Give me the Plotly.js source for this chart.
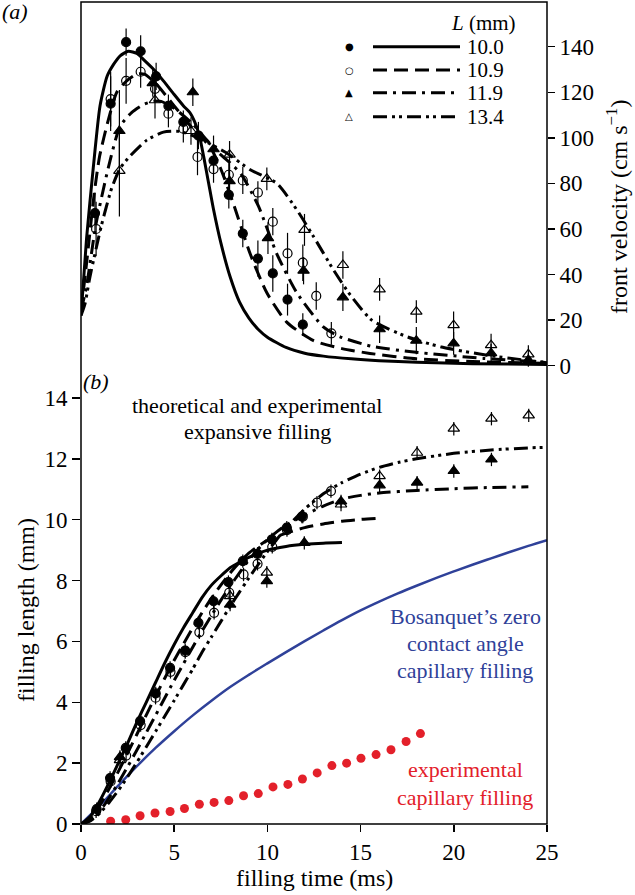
<!DOCTYPE html>
<html>
<head>
<meta charset="utf-8">
<script src="https://cdn.plot.ly/plotly-3.0.1.min.js"></script>
<style>html,body{margin:0;padding:0;background:#fff}#chart{width:635px;height:895px}</style>
</head>
<body>
<div id="chart"></div>
<script>
// ---------- (a) front velocity: theoretical curves ----------
var velT_100 = [0, 0.3, 0.66, 1.02, 1.4, 1.73, 2.1, 2.54, 3.0, 3.4, 3.9, 4.42, 5.0, 5.5, 5.85, 6.1, 6.35, 6.6, 6.85, 7.1, 7.5, 8.0, 8.5, 9.0, 9.5, 10, 11, 12, 13, 14.5, 16, 18, 21, 25];
var velV_100 = [22, 56, 87, 114, 127, 132, 136, 138, 137, 134, 130, 125, 119, 114, 111, 107, 101, 91, 80, 69, 54, 39, 28, 21, 16, 12.5, 8, 5.5, 4.2, 3, 2.2, 1.5, 0.9, 0.5];
var velT_109 = [0, 0.3, 0.7, 1.0, 1.47, 1.92, 2.45, 3.0, 3.4, 4.0, 5.0, 5.5, 6.0, 6.5, 7.0, 7.47, 8.18, 9.08, 9.97, 11.05, 12.48, 14, 15.5, 18, 21, 25];
var velV_109 = [24, 45, 75, 92, 108, 120, 125, 128, 128, 124, 114, 109, 104, 100, 95, 87, 71, 49, 32, 19, 11, 7.5, 5.4, 3, 1.8, 1];
var velT_119 = [0, 0.3, 0.8, 1.47, 2.09, 2.7, 3.35, 3.88, 4.3, 5.0, 6.0, 6.75, 7.3, 8.0, 8.6, 9.52, 10.51, 11.58, 13.0, 13.9, 15.6, 17.85, 21.6, 25];
var velV_119 = [24, 35, 62, 87, 105, 111, 114.6, 116, 116, 113, 106, 99, 94, 89, 84, 70, 49, 32, 17, 12.7, 8.5, 6, 3.2, 1.5];
var velT_134 = [0, 0.21, 0.48, 1.11, 1.65, 2.09, 2.63, 3.53, 4.42, 5.32, 6.3, 7.0, 7.82, 9.08, 10.51, 11.58, 12.48, 13.55, 14.45, 15.6, 17.49, 19.28, 21.79, 25];
var velV_134 = [22, 27, 39, 62, 78, 86.5, 92, 99, 102.5, 102.8, 100, 97, 93.3, 86, 80, 68.4, 56.6, 42, 31, 20, 12.7, 8.3, 4.6, 1.3];

// ---------- (a) front velocity: experiments ----------
var expT_100 = [0.75, 1.59, 2.42, 3.2, 4.03, 4.69, 5.49, 6.3, 7.11, 7.93, 8.68, 9.49, 10.29, 11.08, 11.9];
var expV_100 = [67, 115, 142, 138, 127, 114, 107, 101, 90, 75, 58, 47, 40.5, 29, 18];
var expE_100 = [9, 12, 6, 7, 6, 5, 5, 6, 5, 6, 6, 8, 8, 7, 5];
var expT_109 = [0.81, 1.59, 2.42, 3.2, 3.97, 4.69, 5.49, 6.25, 7.11, 7.93, 8.68, 9.49, 10.29, 11.08, 11.9, 12.62, 13.43];
var expV_109 = [60, 117, 125, 129, 121.5, 110.6, 104, 91.6, 86.3, 83.8, 81.3, 76, 63.2, 49.3, 45.2, 30.6, 14.2];
var expE_109 = [12, 12, 10, 7, 6, 6, 6, 8, 6, 5, 6, 5, 6, 9, 8, 6, 5];
var expT_119 = [2.06, 3.85, 6.0, 7.11, 7.97, 10.03, 11.94, 14.05, 16.02, 17.99, 19.99, 22.0, 24.0];
var expV_119 = [103, 124, 120, 95, 81, 56, 41.7, 30, 16, 11, 9.8, 5.5, 2.5];
var expE_119 = [18, 6, 6, 6, 6, 7, 6, 6, 6, 6, 5, 4, 3];
var expT_134 = [2.06, 3.97, 5.9, 7.97, 9.97, 11.99, 14.05, 16.02, 17.99, 19.99, 22.0, 24.0];
var expV_134 = [85.5, 116.5, 103, 92.6, 82, 59.6, 44.2, 33.5, 23.7, 17.8, 9, 5];
var expE_134 = [20, 8, 6, 6, 5, 7, 6, 5, 5, 6, 5, 4];

// ---------- (b) filling length: theoretical curves ----------
var lenT_100 = [0, 0.5, 1, 1.5, 2, 2.5, 3, 3.5, 4, 4.5, 5, 5.5, 6, 6.5, 7, 7.5, 8, 8.5, 9, 10, 11, 12, 13, 14];
var lenL_100 = [0, 0.25, 0.75, 1.35, 2.0, 2.65, 3.35, 4.0, 4.65, 5.3, 5.9, 6.45, 6.95, 7.45, 7.85, 8.15, 8.42, 8.6, 8.76, 9.0, 9.12, 9.19, 9.23, 9.25];
var lenT_109 = [0, 0.5, 1, 1.5, 2, 2.5, 3, 3.5, 4, 4.5, 5, 5.5, 6, 6.5, 7, 7.5, 8, 8.5, 9, 9.5, 10, 11, 12, 13, 14, 15, 16];
var lenL_109 = [0, 0.18, 0.6, 1.15, 1.72, 2.33, 2.95, 3.58, 4.2, 4.8, 5.38, 5.92, 6.45, 6.95, 7.42, 7.85, 8.25, 8.6, 8.9, 9.13, 9.32, 9.56, 9.74, 9.86, 9.95, 10.01, 10.05];
var lenT_119 = [0, 0.5, 1, 1.5, 2, 2.5, 3, 3.5, 4, 4.5, 5, 5.5, 6, 6.5, 7, 7.5, 8, 8.5, 9, 9.5, 10, 10.5, 11, 12, 13, 14, 15, 16, 18, 20, 22, 24];
var lenL_119 = [0, 0.12, 0.42, 0.85, 1.35, 1.88, 2.43, 3.0, 3.57, 4.15, 4.72, 5.27, 5.82, 6.35, 6.85, 7.35, 7.82, 8.25, 8.67, 9.03, 9.35, 9.6, 9.82, 10.15, 10.45, 10.68, 10.8, 10.88, 10.96, 11.02, 11.06, 11.08];
var lenT_134 = [0, 0.5, 1, 1.5, 2, 2.5, 3, 3.5, 4, 4.5, 5, 5.5, 6, 6.5, 7, 7.5, 8, 8.5, 9, 9.5, 10, 10.5, 11, 12, 13, 14, 15, 16, 17, 18, 20, 22, 24, 25];
var lenL_134 = [0, 0.1, 0.35, 0.7, 1.1, 1.55, 2.03, 2.53, 3.04, 3.55, 4.06, 4.58, 5.1, 5.65, 6.15, 6.65, 7.15, 7.62, 8.08, 8.52, 8.95, 9.35, 9.72, 10.35, 10.85, 11.22, 11.5, 11.72, 11.88, 12.0, 12.18, 12.29, 12.36, 12.38];

// Bosanquet zero contact angle capillary filling
var bosT = [0, 1, 2, 3, 4, 5, 6, 7, 8, 9, 10, 11, 12, 13, 14, 15, 16, 17, 18, 19, 20, 21, 22, 23, 24, 25];
var bosL = [0, 0.6, 1.26, 1.9, 2.5, 3.05, 3.57, 4.05, 4.5, 4.9, 5.28, 5.65, 6.01, 6.36, 6.7, 7.02, 7.31, 7.58, 7.83, 8.07, 8.3, 8.52, 8.73, 8.94, 9.14, 9.33];

// experimental capillary filling
var capT = [1.59, 2.4, 3.17, 3.97, 4.78, 5.55, 6.35, 7.14, 7.93, 8.72, 9.51, 10.3, 11.1, 11.88, 12.67, 13.46, 14.25, 15.02, 15.83, 16.63, 17.44, 18.21];
var capL = [0.09, 0.14, 0.27, 0.36, 0.41, 0.51, 0.65, 0.71, 0.77, 0.93, 1.0, 1.22, 1.3, 1.48, 1.68, 1.92, 2.0, 2.16, 2.28, 2.44, 2.71, 2.97];

// ---------- (b) filling length: experiments ----------
var lexT_100 = [0.84, 1.56, 2.4, 3.17, 4.01, 4.78, 5.59, 6.3, 7.11, 7.91, 8.68, 9.47, 10.24, 11.04, 11.85];
var lexL_100 = [0.49, 1.51, 2.5, 3.38, 4.29, 5.13, 5.7, 6.61, 7.32, 7.95, 8.64, 8.88, 9.35, 9.74, 10.1];
var lexT_109 = [0.81, 1.59, 2.42, 3.2, 4.0, 4.8, 5.59, 6.35, 7.14, 7.95, 8.72, 9.47, 10.26, 11.05, 11.9, 12.66, 13.41];
var lexL_109 = [0.42, 1.4, 2.25, 3.25, 4.15, 5.0, 5.65, 6.3, 6.94, 7.6, 8.2, 8.55, 9.11, 9.66, 10.1, 10.56, 10.94];
var lexT_119 = [2.09, 8.0, 9.97, 11.98, 13.95, 16.02, 18.03, 20.0, 22.02];
var lexL_119 = [2.2, 7.21, 7.98, 9.24, 10.6, 11.13, 11.22, 11.6, 11.98];
var lexT_134 = [2.09, 8.0, 9.97, 13.95, 16.02, 18.03, 20.0, 22.02, 24.02];
var lexL_134 = [2.1, 7.49, 8.26, 10.5, 11.43, 12.2, 12.99, 13.32, 13.43];

var legendLabels = ['10.0', '10.9', '11.9', '13.4'];
var legendGlyphs = ['\u25CF', '\u25CB', '\u25B2', '\u25B3'];

var xTicks = [0, 5, 10, 15, 20, 25];
var vTicks = [0, 20, 40, 60, 80, 100, 120, 140];
var lTicks = [0, 2, 4, 6, 8, 10, 12, 14];

// ---------- styles ----------
var BLK = '#000000';
var BLUE = '#2f4199';
var RED = '#e3202a';
var dashes = ['solid', '14px,7px', '14px,6px,3px,6px', '14px,5px,3px,4px,3px,5px'];
var syms = ['circle', 'circle-open', 'triangle-up', 'triangle-up-open'];
var FONT = 'Liberation Serif';

function line(x, y, k, ax) {
  return {x: x, y: y, yaxis: ax, mode: 'lines', type: 'scatter', hoverinfo: 'skip',
          line: {color: BLK, width: 3, dash: dashes[k], shape: 'spline', smoothing: 0.6}};
}
function pts(x, y, k, ax, err) {
  var t = {x: x, y: y, yaxis: ax, mode: 'markers', type: 'scatter', hoverinfo: 'skip',
           marker: {symbol: syms[k], size: k >= 2 ? 10 : 9, color: BLK, line: {color: BLK, width: 1.2}}};
  if (err) t.error_y = {type: 'data', array: err, visible: true, color: BLK, thickness: 1.2, width: 0};
  return t;
}
function smallErr(n) { var a = []; for (var i = 0; i < n; i++) a.push(0.22); return a; }

var data = [
  line(velT_100, velV_100, 0, 'y2'),
  line(velT_109, velV_109, 1, 'y2'),
  line(velT_119, velV_119, 2, 'y2'),
  line(velT_134, velV_134, 3, 'y2'),
  pts(expT_100, expV_100, 0, 'y2', expE_100),
  pts(expT_109, expV_109, 1, 'y2', expE_109),
  pts(expT_119, expV_119, 2, 'y2', expE_119),
  pts(expT_134, expV_134, 3, 'y2', expE_134),
  {x: bosT, y: bosL, yaxis: 'y', mode: 'lines', type: 'scatter', hoverinfo: 'skip',
   line: {color: BLUE, width: 2.5, shape: 'spline'}},
  {x: capT, y: capL, yaxis: 'y', mode: 'markers', type: 'scatter', hoverinfo: 'skip',
   marker: {symbol: 'circle', size: 9, color: RED}},
  line(lenT_100, lenL_100, 0, 'y'),
  line(lenT_109, lenL_109, 1, 'y'),
  line(lenT_119, lenL_119, 2, 'y'),
  line(lenT_134, lenL_134, 3, 'y'),
  pts(lexT_100, lexL_100, 0, 'y', smallErr(lexT_100.length)),
  pts(lexT_109, lexL_109, 1, 'y', smallErr(lexT_109.length)),
  pts(lexT_119, lexL_119, 2, 'y', smallErr(lexT_119.length)),
  pts(lexT_134, lexL_134, 3, 'y', smallErr(lexT_134.length))
];

// layout geometry
var ML = 81, MR = 88, MT = 2, MB = 71, W = 635, H = 895;
var PW = W - ML - MR, PH = H - MT - MB;
function px(x) { return (x - ML) / PW; }
function py(y) { return (H - MB - y) / PH; }
var split = py(370);

var annotations = [
  {text: '<i>(a)</i>', x: px(15), y: py(12)},
  {text: '<i>(b)</i>', x: px(96), y: py(381)},
  {text: 'theoretical and experimental', x: px(257), y: py(405)},
  {text: 'expansive filling', x: px(257), y: py(431)},
  {text: 'Bosanquet\u2019s zero', x: px(465), y: py(617), color: BLUE},
  {text: 'contact angle', x: px(465), y: py(643), color: BLUE},
  {text: 'capillary filling', x: px(465), y: py(670), color: BLUE},
  {text: 'experimental', x: px(465), y: py(769), color: RED},
  {text: 'capillary filling', x: px(465), y: py(797), color: RED},
  {text: 'filling time (ms)', x: px(314), y: py(878), size: 24},
  {text: 'filling length (mm)', x: px(26), y: py(610), size: 24, angle: -90},
  {text: 'front velocity (cm s<sup>\u22121</sup>)', x: px(617), y: py(207), size: 24, angle: -90},
  {text: '<i>L</i> (mm)', x: px(483), y: py(23), size: 21}
].map(function (a) {
  return {text: a.text, x: a.x, y: a.y, xref: 'paper', yref: 'paper', showarrow: false,
          xanchor: 'center', yanchor: 'middle', textangle: a.angle || 0,
          font: {family: FONT, size: a.size || 22, color: a.color || BLK}};
});

var shapes = [{type: 'rect', xref: 'paper', yref: 'paper', x0: 0, x1: 1, y0: 0, y1: 1,
               line: {color: BLK, width: 1.5}, layer: 'above'}];
var rowY = [46.7, 70, 92.7, 116.7];
for (var i = 0; i < 4; i++) {
  shapes.push({type: 'line', xref: 'paper', yref: 'paper', x0: px(373), x1: px(460),
               y0: py(rowY[i]), y1: py(rowY[i]), line: {color: BLK, width: 3, dash: dashes[i]}});
  annotations.push({text: legendLabels[i], x: px(465), y: py(rowY[i]), xref: 'paper', yref: 'paper',
                    showarrow: false, xanchor: 'left', yanchor: 'middle',
                    font: {family: FONT, size: 21, color: BLK}});
  annotations.push({text: legendGlyphs[i], x: px(349), y: py(rowY[i]), xref: 'paper', yref: 'paper',
                    showarrow: false, xanchor: 'center', yanchor: 'middle',
                    font: {family: 'DejaVu Sans', size: 10, color: BLK}});
}

var tickFont = {family: FONT, size: 23, color: BLK};
var layout = {
  width: W, height: H,
  margin: {l: ML, r: MR, t: MT, b: MB, pad: 0},
  paper_bgcolor: '#fff', plot_bgcolor: '#fff',
  showlegend: false,
  font: {family: FONT},
  xaxis: {range: [0, 25], tickvals: xTicks, ticks: 'outside', ticklen: 7, tickwidth: 1.5,
          tickcolor: BLK, showgrid: false, zeroline: false, showline: false, tickfont: tickFont,
          anchor: 'y', fixedrange: true},
  yaxis: {domain: [0, split], range: [0, (H - MB - 370) / 30.43], tickvals: lTicks, ticks: 'outside',
          ticklen: 8, tickwidth: 1.5, tickcolor: BLK, showgrid: false, zeroline: false,
          showline: false, tickfont: tickFont, anchor: 'x'},
  yaxis2: {domain: [split, 1], range: [-(370 - 365.7) / 2.279, 140 + (46.7 - MT) / 2.279],
           tickvals: vTicks, side: 'right', anchor: 'x', ticks: 'outside', ticklen: 7, tickwidth: 1.5,
           tickcolor: BLK, showgrid: false, zeroline: false, showline: false, tickfont: tickFont},
  annotations: annotations,
  shapes: shapes
};

Plotly.newPlot('chart', data, layout, {staticPlot: true, displayModeBar: false});
</script>
</body>
</html>
